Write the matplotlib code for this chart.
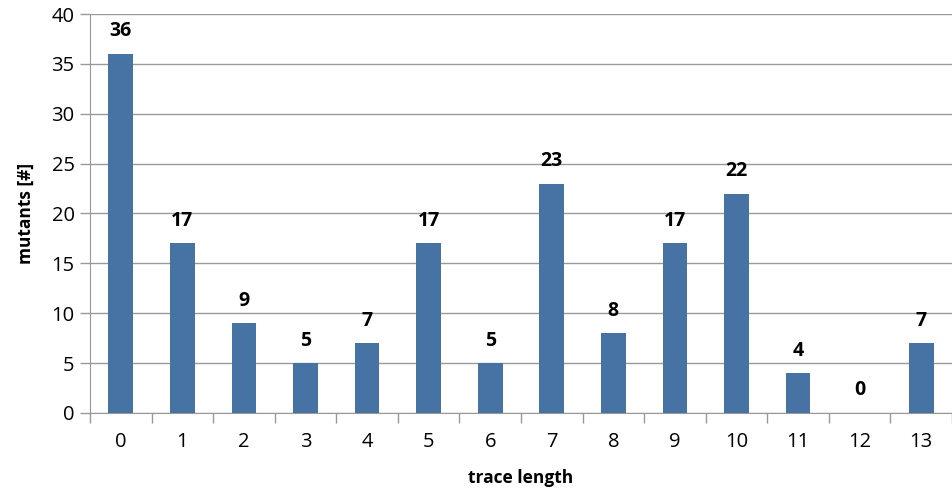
import numpy as np
import matplotlib.pyplot as plt

plt.rcParams['font.family'] = ['Open Sans', 'DejaVu Sans']

trace_length = ['0', '1', '2', '3', '4', '5', '6', '7', '8', '9', '10', '11', '12', '13']
mutants = [36, 17, 9, 5, 7, 17, 5, 23, 8, 17, 22, 4, 0, 7]

fig = plt.figure(figsize=(9.53, 4.95), dpi=100)
ax = fig.add_axes([0.0944, 0.1657, 0.9046, 0.806])

x = np.arange(len(mutants))
grey = '#999999'
bars = ax.bar(x, mutants, width=0.4, color='#4672a4', zorder=3)

for xi, v in zip(x, mutants):
    ax.annotate(str(v), (xi, v), xytext=(0, 9), textcoords='offset points',
                ha='center', va='bottom', fontsize=14, fontweight='bold')

ax.set_xlim(-0.5, len(mutants) - 0.5)
ax.set_ylim(0, 40)
ax.set_yticks(range(0, 41, 5))
ax.set_xticks(x)
ax.set_xticklabels(trace_length)
ax.set_xticks(np.arange(-0.5, len(mutants), 1), minor=True)
ax.tick_params(axis='x', which='major', length=0, labelsize=14.5, pad=14)
ax.tick_params(axis='x', which='minor', length=7, color=grey, width=1)
ax.tick_params(axis='y', length=7, color=grey, width=1, labelsize=14.5, pad=4)

ax.grid(axis='y', color=grey, linewidth=1, zorder=0)
ax.set_axisbelow(True)
for s in ['top', 'right']:
    ax.spines[s].set_visible(False)
ax.spines['left'].set_color(grey)
ax.spines['bottom'].set_color(grey)

ax.set_xlabel('trace length', fontsize=12.5, fontweight='bold', labelpad=12)
ax.set_ylabel('mutants [#]', fontsize=12.5, fontweight='bold', labelpad=12)

fig.savefig('out.png', dpi=100)
